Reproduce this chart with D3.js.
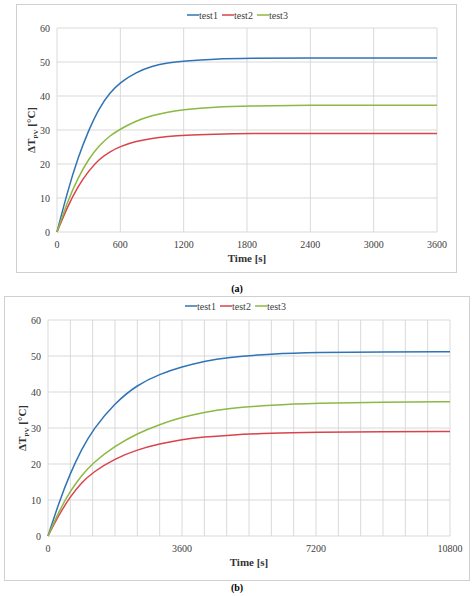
<!DOCTYPE html>
<html><head><meta charset="utf-8">
<script src="https://cdn.jsdelivr.net/npm/d3@7"></script>
<style>body{margin:0;background:#fff}svg text{font-family:"Liberation Serif","Times New Roman",Times,"DejaVu Serif",serif}</style>
</head><body><svg id="vis" width="474" height="596"></svg>
<script>
const series = ["test1", "test2", "test3"];
const colors = ["#2f74b5", "#d9434c", "#8db843"];

// panel (a): time in s
const timeA = [0, 100, 200, 300, 400, 500, 600, 750, 900, 1050, 1200, 1500, 1800, 2400, 3000, 3600];
const test1A = [0, 12, 22, 30, 36.5, 41, 44, 47, 48.8, 49.8, 50.3, 50.9, 51.1, 51.2, 51.2, 51.2];
const test2A = [0, 7.5, 13.5, 18, 21.5, 23.6, 25.2, 26.7, 27.6, 28.1, 28.5, 28.8, 29, 29, 29, 29];
const test3A = [0, 9, 16, 21.5, 25.5, 28.3, 30.3, 32.7, 34.3, 35.3, 36, 36.8, 37.1, 37.3, 37.3, 37.3];

// panel (b)
const timeB = [0, 300, 600, 900, 1200, 1800, 2400, 3000, 3600, 4200, 4800, 6000, 7200, 9000, 10800];
const test1B = [0, 9.5, 17.5, 24, 29.5, 37, 42, 45, 47, 48.6, 49.6, 50.6, 51, 51.1, 51.2];
const test2B = [0, 6, 11, 14.8, 17.7, 21.5, 24, 25.6, 26.8, 27.5, 28, 28.6, 28.8, 29, 29];
const test3B = [0, 7, 12.5, 16.8, 20.3, 25, 28.5, 31, 33, 34.4, 35.4, 36.4, 36.9, 37.2, 37.3];

const yTicks = [0, 10, 20, 30, 40, 50, 60];

const svg = d3.select("#vis");

function panel(cfg) {
  const g = svg.append("g");
  g.append("rect").attr("x", cfg.frame[0]).attr("y", cfg.frame[1])
    .attr("width", cfg.frame[2]).attr("height", cfg.frame[3])
    .attr("fill", "#fff").attr("stroke", "#d0d0d0");
  const x = d3.scaleLinear().domain([0, cfg.xmax]).range([cfg.l, cfg.r]);
  const y = d3.scaleLinear().domain([0, 60]).range([cfg.b, cfg.t]);

  // grid
  g.selectAll(".vg").data(d3.range(0, cfg.xmax + 1, 600)).enter().append("line")
    .attr("x1", d => x(d)).attr("x2", d => x(d)).attr("y1", y(0)).attr("y2", y(60))
    .attr("stroke", "#d9d9d9").attr("stroke-width", 1);
  g.selectAll(".hg").data(yTicks).enter().append("line")
    .attr("x1", x(0)).attr("x2", x(cfg.xmax)).attr("y1", d => y(d)).attr("y2", d => y(d))
    .attr("stroke", "#d9d9d9").attr("stroke-width", 1);

  g.selectAll(".yt").data(yTicks).enter().append("text")
    .attr("x", x(0) - 7).attr("y", d => y(d) + 3.5).attr("text-anchor", "end")
    .attr("font-size", 10).attr("fill", "#404040").text(d => d);
  g.selectAll(".xt").data(cfg.xTicks).enter().append("text")
    .attr("x", d => x(d)).attr("y", y(0) + 16).attr("text-anchor", "middle")
    .attr("font-size", 10).attr("fill", "#404040").text(d => d);

  g.append("text").attr("x", (cfg.l + cfg.r) / 2).attr("y", y(0) + 30)
    .attr("text-anchor", "middle").attr("font-size", 11).attr("font-weight", "bold")
    .attr("fill", "#333").text("Time [s]");
  const yl = g.append("text")
    .attr("transform", `translate(${cfg.l - 22},${(cfg.t + cfg.b) / 2}) rotate(-90)`)
    .attr("text-anchor", "middle").attr("font-size", 11).attr("font-weight", "bold").attr("fill", "#333");
  yl.append("tspan").text("ΔT");
  yl.append("tspan").attr("font-size", 7).attr("dy", 3).text("PV");
  yl.append("tspan").attr("dy", -3).text(" [°C]");

  const line = d3.line().x(d => x(d[0])).y(d => y(d[1])).curve(d3.curveBasis);
  cfg.data.forEach((vals, i) => {
    g.append("path").datum(cfg.time.map((t, j) => [t, vals[j]]))
      .attr("d", line).attr("fill", "none").attr("stroke", colors[i]).attr("stroke-width", 1.5);
  });

  // legend
  const lx = cfg.legX;
  series.forEach((s, i) => {
    const ox = lx + i * 35;
    g.append("line").attr("x1", ox).attr("x2", ox + 12).attr("y1", cfg.legY).attr("y2", cfg.legY)
      .attr("stroke", colors[i]).attr("stroke-width", 1.5);
    g.append("text").attr("x", ox + 12).attr("y", cfg.legY + 3.5)
      .attr("font-size", 10).attr("fill", "#404040").text(s);
  });

  svg.append("text").attr("x", 237).attr("y", cfg.cap).attr("text-anchor", "middle")
    .attr("font-size", 10).attr("font-weight", "bold").text(cfg.label);
}

panel({
  frame: [16.5, 4.5, 440, 268], l: 57, r: 437, t: 28, b: 232, xmax: 3600,
  xTicks: [0, 600, 1200, 1800, 2400, 3000, 3600], time: timeA,
  data: [test1A, test2A, test3A], legX: 187, legY: 15, cap: 292, label: "(a)"
});
panel({
  frame: [4.5, 296.5, 465, 284], l: 48, r: 450, t: 320, b: 536, xmax: 10800,
  xTicks: [0, 3600, 7200, 10800], time: timeB,
  data: [test1B, test2B, test3B], legX: 185, legY: 306, cap: 591, label: "(b)"
});
</script></body></html>
